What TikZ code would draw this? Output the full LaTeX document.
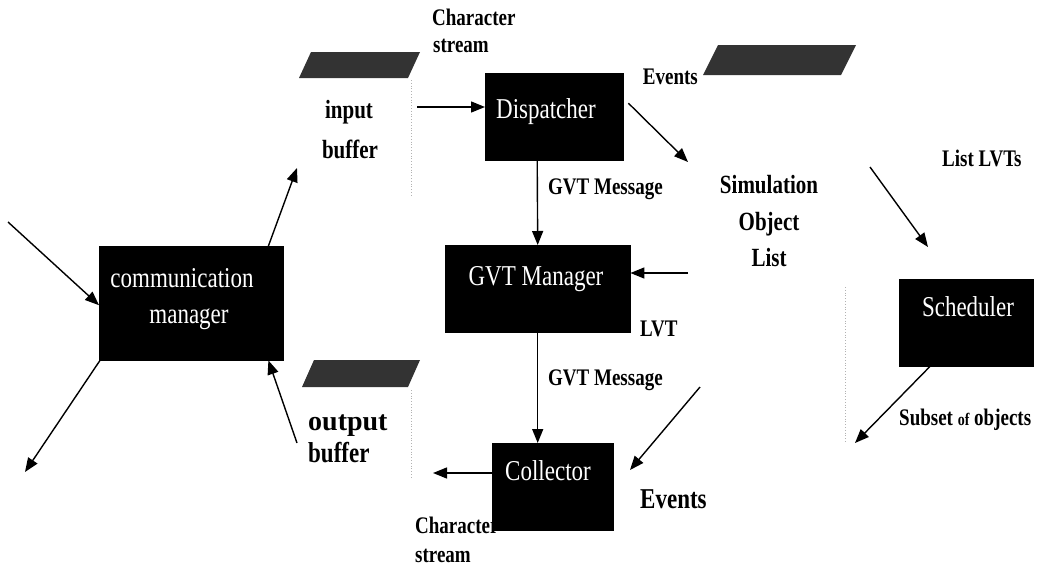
\documentclass[tikz,border=0pt]{standalone}
\usepackage{fontspec}
\setmainfont{Liberation Serif}
\usetikzlibrary{arrows.meta}
\newcommand\talltxt[1]{\scalebox{1}[1.25]{#1}}
\begin{document}
\begin{tikzpicture}[x=1pt,y=-1pt,
  blk/.style={fill=black, draw=black, inner sep=0pt, anchor=north west},
  btxt/.style={text=white, font=\fontsize{23}{23}\selectfont, inner sep=0pt, anchor=base},
  lbl/.style={font=\bfseries\fontsize{19}{19}\selectfont, inner sep=0pt, anchor=base west},
  biglbl/.style={font=\bfseries\fontsize{21}{21}\selectfont, inner sep=0pt, anchor=base},
  arr/.style={line width=1.4pt, -{Triangle[length=14pt,width=11pt]}},
  buf/.style={fill=black!80, draw=none},
  faint/.style={draw=black!30, dotted, line width=0.8pt}]
\useasboundingbox (0,0) rectangle (1037,571);

% buffers (parallelograms)
\fill[buf] (311,52) -- (420,52) -- (408,78) -- (299,78) -- cycle;
\fill[buf] (718,45) -- (856,45) -- (841,75) -- (703,75) -- cycle;
\fill[buf] (314,360) -- (420,360) -- (408,387) -- (302,387) -- cycle;
\draw[faint] (411,80) -- (411,197);
\draw[faint] (411,390) -- (411,478);
\draw[faint] (845,287) -- (845,443);

% boxes
\node[blk, minimum width=184pt, minimum height=114pt] (comm) at (99,246) {};
\node[blk, minimum width=138pt, minimum height=87pt] (disp) at (485,73) {};
\node[blk, minimum width=185pt, minimum height=87pt] (gvt) at (445,245) {};
\node[blk, minimum width=121pt, minimum height=87pt] (coll) at (492,443) {};
\node[blk, minimum width=134pt, minimum height=87pt] (sched) at (899,279) {};

% box texts
\node[btxt] (commt1) at (182,287) {\talltxt{communication}};
\node[btxt] (commt2) at (189,323) {\talltxt{manager}};
\node[btxt] (dispt) at (546,118) {\talltxt{Dispatcher}};
\node[btxt] (gvtt) at (536,285) {\talltxt{GVT Manager}};
\node[btxt] (collt) at (548,480) {\talltxt{Collector}};
\node[btxt] (schedt) at (968,316) {\talltxt{Scheduler}};

% free ends
\coordinate (c1) at (8,222);
\coordinate (c2) at (25,472);
\coordinate (c3) at (297,168);
\coordinate (c4) at (297,443);
\coordinate (c5) at (417,107);
\coordinate (c6) at (688,162);
\coordinate (c8) at (688,273);
\coordinate (c10a) at (700,387);
\coordinate (c10b) at (630,470);
\coordinate (c11) at (433,473);
\coordinate (c12a) at (870,167);
\coordinate (c12b) at (928,247);
\coordinate (c13) at (855,443);

% connectors
\draw[arr] (c1) -- ([yshift=-2pt]comm.west);
\draw[arr] ([xshift=1pt]comm.south west) -- (c2);
\draw[arr] ([xshift=-15pt]comm.north east) -- (c3);
\draw[arr] (c4) -- ([xshift=-15pt]comm.south east);
\draw[arr] (c5) -- (c5 -| disp.west);
\draw[arr] ([shift={(5pt,13.5pt)}]disp.east) -- (c6);
\draw[arr] ([xshift=-17pt]disp.south) -- (gvt.north);
\draw[arr] (c8) -- (c8 -| gvt.east);
\draw[arr] (gvt.south) -- (gvt.south |- coll.north);
\draw[arr] (c10a) -- (c10b);
\draw[arr] (c11 -| coll.west) -- (c11);
\draw[arr] (c12a) -- (c12b);
\draw[arr] ([xshift=31pt]sched.south west) -- (c13);

% labels
\node[lbl] (ch1) at (432,25) {\talltxt{Character}};
\node[lbl] (ch2) at (433,52) {\talltxt{stream}};
\node[biglbl] (in1) at (349,118) {\talltxt{input}};
\node[biglbl] (in2) at (350,158) {\talltxt{buffer}};
\node[lbl, anchor=base east] (ev1) at (698,84) {\talltxt{Events}};
\node[lbl] (gm1) at (548,194) {\talltxt{GVT Message}};
\node[biglbl] (sim1) at (769,193) {\talltxt{Simulation}};
\node[biglbl] (sim2) at (769,230) {\talltxt{Object}};
\node[biglbl] (sim3) at (769,266) {\talltxt{List}};
\node[lbl] (lvts) at (942,166) {\talltxt{List LVTs}};
\node[lbl] (lvt) at (640,336) {\talltxt{LVT}};
\node[lbl] (gm2) at (548,385) {\talltxt{GVT Message}};
\node[lbl, font=\bfseries\fontsize{28}{28}\selectfont] (out1) at (308,430) {output};
\node[lbl, font=\bfseries\fontsize{23}{23}\selectfont] (out2) at (308,462) {\talltxt{buffer}};
\node[lbl, font=\bfseries\fontsize{23}{23}\selectfont] (ev2) at (640,508) {\talltxt{Events}};
\node[lbl] (ch3) at (415,533) {\talltxt{Character}};
\node[lbl] (ch4) at (415,562) {\talltxt{stream}};
\node[lbl] (sub) at (899,425) {\talltxt{Subset {\fontsize{14}{14}\selectfont of} objects}};
\end{tikzpicture}
\end{document}
